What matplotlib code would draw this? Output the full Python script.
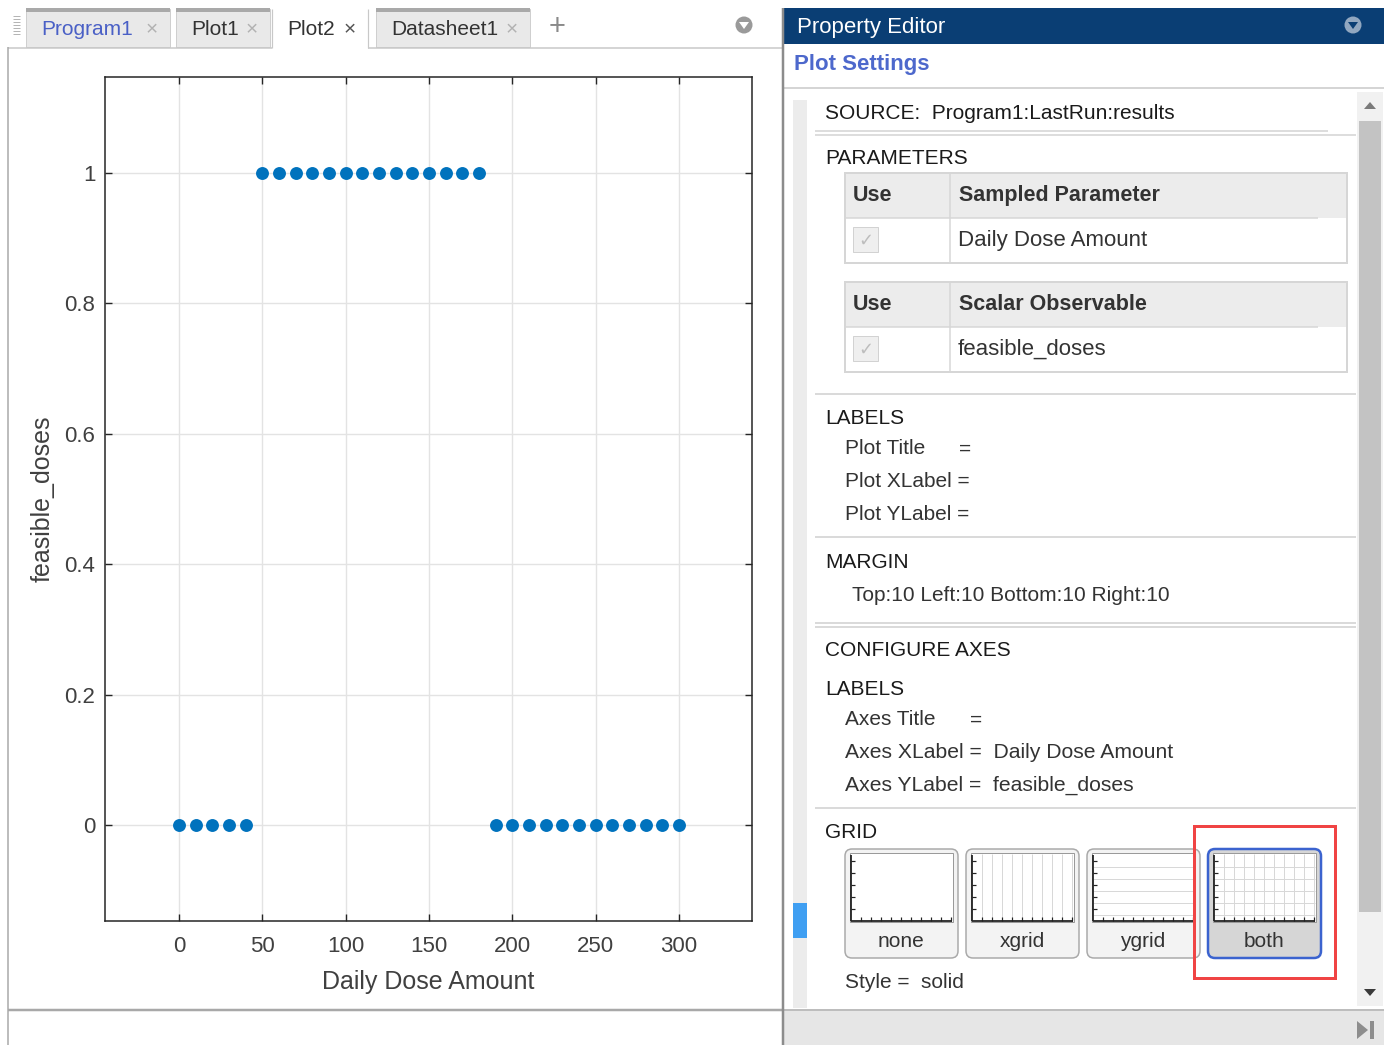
import matplotlib
matplotlib.use("Agg")
import matplotlib.pyplot as plt
from matplotlib.patches import Rectangle, FancyBboxPatch, Circle, Polygon

plt.rcParams['font.family'] = ['Liberation Sans', 'DejaVu Sans']

# ---------------- data ----------------
daily_dose = [0, 10, 20, 30, 40, 50, 60, 70, 80, 90, 100, 110, 120, 130, 140,
              150, 160, 170, 180, 190, 200, 210, 220, 230, 240, 250, 260, 270,
              280, 290, 300]
feasible_doses = [0, 0, 0, 0, 0, 1, 1, 1, 1, 1, 1, 1, 1, 1, 1,
                  1, 1, 1, 1, 0, 0, 0, 0, 0, 0, 0, 0, 0,
                  0, 0, 0]
x_ticks = [0, 50, 100, 150, 200, 250, 300]
x_tick_labels = ['0', '50', '100', '150', '200', '250', '300']
y_ticks = [0, 0.2, 0.4, 0.6, 0.8, 1]
y_tick_labels = ['0', '0.2', '0.4', '0.6', '0.8', '1']
x_label = 'Daily Dose Amount'
y_label = 'feasible_doses'
tabs = ['Program1', 'Plot1', 'Plot2', 'Datasheet1']
grid_options = ['none', 'xgrid', 'ygrid', 'both']

W, H = 1384, 1045
fig = plt.figure(figsize=(W / 100, H / 100), dpi=100, facecolor='white')

# ---------------- UI overlay (pixel coordinates) ----------------
ui = fig.add_axes([0, 0, 1, 1], zorder=0)
ui.set_xlim(0, W)
ui.set_ylim(H, 0)
ui.axis('off')

PX = 0.72  # points per pixel


def rect(x0, y0, x1, y1, fc='none', ec='none', lw=0, z=1):
    ui.add_patch(Rectangle((x0, y0), x1 - x0, y1 - y0, facecolor=fc,
                           edgecolor=ec, linewidth=lw * PX, zorder=z))


def hline(y, x0, x1, color='#cfcfcf', lw=1.5, z=2):
    ui.plot([x0, x1], [y, y], color=color, lw=lw * PX, zorder=z,
            solid_capstyle='butt')


def vline(x, y0, y1, color='#cfcfcf', lw=1.5, z=2):
    ui.plot([x, x], [y0, y1], color=color, lw=lw * PX, zorder=z,
            solid_capstyle='butt')


def txt(x, y, s, size=15, color='#262626', weight='normal', ha='left', z=5,
        family=None):
    kw = {}
    if family:
        kw['family'] = family
    ui.text(x, y + 1.5, s, fontsize=size, color=color, fontweight=weight, ha=ha,
            va='center', zorder=z, **kw)


# ----- tab bar -----
for gy in range(16, 36, 3):
    hline(gy, 13, 20, color='#b5b5b5', lw=1)
tab_x = [(26, 170), (176, 270), (272, 368), (376, 530)]
for (x0, x1), name in zip(tab_x, tabs):
    sel = name == 'Plot2'
    if sel:
        rect(x0, 9, x1, 48, fc='white', ec='none', z=2)
        vline(x0, 9, 48, color='#c8c8c8', lw=1.2, z=3)
        vline(x1, 9, 48, color='#c8c8c8', lw=1.2, z=3)
    else:
        rect(x0, 9, x1, 47, fc='#e9e9e9', ec='#cfcfcf', lw=1, z=2)
        rect(x0, 8, x1, 12, fc='#a9a9a9', z=3)
    col = '#4a60c6' if name == 'Program1' else '#333333'
    txt(x0 + 15, 28, name, size=15, color=col)
    txt(x1 - 18, 28, '\u00d7', size=15,
        color='#555555' if sel else '#b2b2b2', ha='center')
txt(557, 26, '+', size=21, color='#8a8a8a', ha='center')
ui.add_patch(Circle((744, 25), 8.5, facecolor='#9a9a9a', edgecolor='none', zorder=3))
ui.add_patch(Polygon([[739, 22], [749, 22], [744, 29]], closed=True,
                     facecolor='white', edgecolor='none', zorder=4))
hline(47.5, 8, 272, color='#c8c8c8', lw=1.5)
hline(47.5, 368, 782, color='#c8c8c8', lw=1.5)

# ----- left panel borders -----
vline(8, 47, H, color='#a8a8a8', lw=1.5)
vline(782.5, 8, H, color='#8c8c8c', lw=2.5, z=6)
hline(1010, 8, 782, color='#a8a8a8', lw=2.5)

# ----- right panel -----
rect(784, 8, W, 44, fc='#0a3e74', z=2)
txt(797, 26, 'Property Editor', size=16, color='white')
ui.add_patch(Circle((1353, 25), 8.5, facecolor='#91a7c0', edgecolor='none', zorder=3))
ui.add_patch(Polygon([[1348, 22], [1358, 22], [1353, 29]], closed=True,
                     facecolor='#0a3e74', edgecolor='none', zorder=4))
txt(794, 63, 'Plot Settings', size=16, color='#4d68cc', weight='bold')
hline(88, 784, W, color='#c8c8c8', lw=1.5)

rect(793, 100, 807, 1008, fc='#ececec', z=1)
rect(793, 903, 807, 938, fc='#3f9ff2', z=2)
rect(1357, 92, 1383, 1006, fc='#f1f1f1', z=1)
rect(1359, 121, 1381, 912, fc='#c3c3c3', z=2)
ui.add_patch(Polygon([[1364, 109], [1376, 109], [1370, 102]], closed=True,
                     facecolor='#7a7a7a', edgecolor='none', zorder=3))
ui.add_patch(Polygon([[1364, 989], [1376, 989], [1370, 996]], closed=True,
                     facecolor='#3a3a3a', edgecolor='none', zorder=3))
rect(784, 1010, W, H, fc='#e6e6e6', z=1)
hline(1010, 784, W, color='#bdbdbd', lw=2)
ui.add_patch(Polygon([[1357, 1021], [1357, 1039], [1368, 1030]], closed=True,
                     facecolor='#8d8d8d', edgecolor='none', zorder=3))
rect(1370, 1021, 1374, 1039, fc='#8d8d8d', z=3)

# section texts
head = '#1a1a1a'
body = '#333333'
txt(825, 112, 'SOURCE:  Program1:LastRun:results', size=15, color=head)
hline(131, 815, 1328, color='#d3d3d3', lw=1.5)
hline(134.5, 815, 1356, color='#d3d3d3', lw=1.5)
txt(825, 157, 'PARAMETERS', size=15, color=head)


def table(y0, header, value):
    y_mid = y0 + 45
    y1 = y0 + 90
    rect(845, y0, 1347, y_mid, fc='#ececec', z=2)
    rect(845, y0, 1347, y1, fc='none', ec='#d6d6d6', lw=2, z=3)
    hline(y_mid, 845, 1318, color='#d6d6d6', lw=1.5, z=3)
    vline(950, y0, y1, color='#d6d6d6', lw=1.5, z=3)
    txt(853, y0 + 21, 'Use', size=15.5, color='#333333', weight='bold')
    txt(959, y0 + 21, header, size=15.5, color='#333333', weight='bold')
    rect(853, y_mid + 9, 878, y_mid + 34, fc='#efefef', ec='#d2d2d2', lw=1, z=3)
    txt(865.5, y_mid + 21, '\u2713', size=13, color='#bdbdbd', ha='center',
        family=['DejaVu Sans'])
    txt(958, y_mid + 21, value, size=16, color='#333333')


table(173, 'Sampled Parameter', 'Daily Dose Amount')
table(282, 'Scalar Observable', 'feasible_doses')

hline(394, 815, 1356)
txt(825, 417, 'LABELS', size=15, color=head)
txt(845, 447, 'Plot Title', size=15, color=body)
txt(959, 448, '=', size=15, color=body)
txt(845, 480, 'Plot XLabel =', size=15, color=body)
txt(845, 513, 'Plot YLabel =', size=15, color=body)
hline(537, 815, 1356)
txt(825, 561, 'MARGIN', size=15, color=head)
txt(852, 594, 'Top:10 Left:10 Bottom:10 Right:10', size=15, color=body)
hline(623, 815, 1356)
hline(627, 815, 1356)
txt(825, 649, 'CONFIGURE AXES', size=15, color=head)
txt(825, 688, 'LABELS', size=15, color=head)
txt(845, 718, 'Axes Title', size=15, color=body)
txt(970, 719, '=', size=15, color=body)
txt(845, 751, 'Axes XLabel =  ' + x_label, size=15.2, color=body)
txt(845, 784, 'Axes YLabel =  ' + y_label, size=15.2, color=body)
hline(808, 815, 1356)
txt(825, 831, 'GRID', size=15, color=head)

btn_x = [845, 966, 1087, 1208]
for bx, name in zip(btn_x, grid_options):
    sel = name == 'both'
    ui.add_patch(FancyBboxPatch((bx, 849), 113, 109,
                                boxstyle='round,pad=0,rounding_size=7',
                                facecolor='#d6d6d6' if sel else '#f3f3f3',
                                edgecolor='#3b63cf' if sel else '#a9a9a9',
                                linewidth=(2.5 if sel else 1.5) * PX, zorder=2))
    rect(bx + 5, 853, bx + 108, 922, fc='white', ec='#9a9a9a', lw=1, z=3)
    if name in ('xgrid', 'both'):
        for gx in range(bx + 16, bx + 108, 10):
            vline(gx, 854, 921, color='#d8d8d8', lw=1, z=4)
    if name in ('ygrid', 'both'):
        for gy in range(867, 921, 12):
            hline(gy, bx + 6, bx + 107, color='#d8d8d8', lw=1, z=4)
    vline(bx + 6, 855, 921, color='#222222', lw=1.8, z=5)
    hline(921, bx + 6, bx + 107, color='#222222', lw=1.8, z=5)
    for tx in range(bx + 16, bx + 108, 10):
        vline(tx, 917, 921, color='#222222', lw=1.2, z=5)
    for ty in range(861, 921, 12):
        hline(ty, bx + 6, bx + 10, color='#222222', lw=1.2, z=5)
    txt(bx + 56, 940, name, size=15, color='#333333', ha='center')

rect(1194, 826, 1335, 978, fc='none', ec='#f04444', lw=3, z=6)
txt(845, 981, 'Style =  solid', size=15, color=body)

# ---------------- chart ----------------
ax = fig.add_axes([105 / W, 1 - 921 / H, (752 - 105) / W, (921 - 77) / H], zorder=2)
ax.set_facecolor('white')
ax.plot(daily_dose, feasible_doses, linestyle='none', marker='o',
        markersize=9.3, color='#0072BD', markeredgewidth=0, zorder=3)
ax.set_xlim(-44.4, 343.8)
ax.set_ylim(-0.147, 1.147)
ax.set_xticks(x_ticks)
ax.set_xticklabels(x_tick_labels)
ax.set_yticks(y_ticks)
ax.set_yticklabels(y_tick_labels)
ax.grid(True, color='#e3e3e3', linewidth=1.0, zorder=0)
ax.set_axisbelow(True)
for s in ax.spines.values():
    s.set_color('#262626')
    s.set_linewidth(1.1)
ax.tick_params(axis='both', direction='in', length=5, width=1.0,
               colors='#262626', labelcolor='#404040', labelsize=16,
               top=True, right=True)
ax.tick_params(axis='x', pad=11)
ax.tick_params(axis='y', pad=7)
ax.set_xlabel(x_label, fontsize=18, color='#404040', labelpad=9)
ax.set_ylabel(y_label, fontsize=18, color='#404040', labelpad=7)

fig.savefig('out.png', dpi=100, facecolor='white')
